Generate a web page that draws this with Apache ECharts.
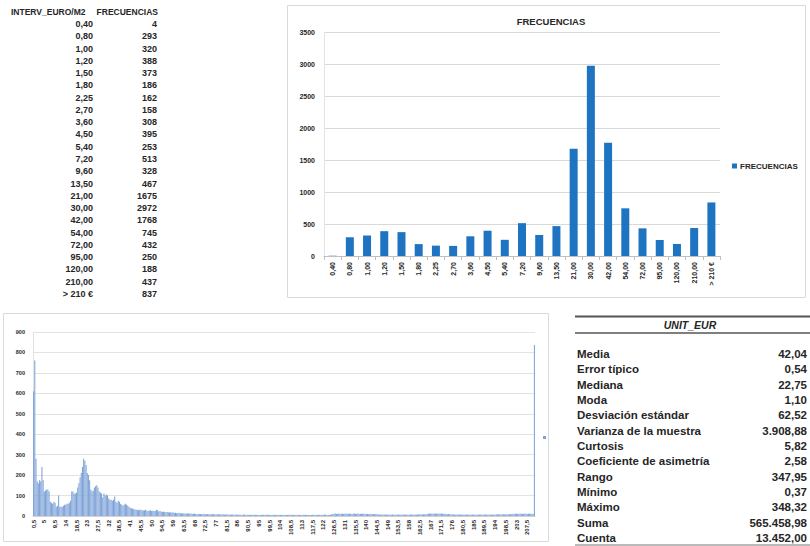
<!DOCTYPE html>
<html>
<head>
<meta charset="utf-8">
<script src="https://cdn.jsdelivr.net/npm/echarts@6/dist/echarts.min.js"></script>
<style>
  html, body { margin: 0; padding: 0; background: #fff; }
  #chart { width: 810px; height: 546px; }
</style>
</head>
<body>
<div id="chart"></div>
<script>
// frequency table (top left) and its bar chart
const intervals = ['0,40', '0,80', '1,00', '1,20', '1,50', '1,80', '2,25', '2,70', '3,60', '4,50', '5,40', '7,20',
  '9,60', '13,50', '21,00', '30,00', '42,00', '54,00', '72,00', '95,00', '120,00', '210,00', '> 210 €'];
const frecuencias = [4, 293, 320, 388, 373, 186, 162, 158, 308, 395, 253, 513,
  328, 467, 1675, 2972, 1768, 745, 432, 250, 188, 437, 837];

// descriptive statistics (bottom right)
const statLabels = ['Media', 'Error típico', 'Mediana', 'Moda', 'Desviación estándar', 'Varianza de la muestra',
  'Curtosis', 'Coeficiente de asimetría', 'Rango', 'Mínimo', 'Máximo', 'Suma', 'Cuenta'];
const statValues = ['42,04', '0,54', '22,75', '1,10', '62,52', '3.908,88',
  '5,82', '2,58', '347,95', '0,37', '348,32', '565.458,98', '13.452,00'];

// histogram in 0,5 €/m2 steps (bottom left)
const histValues = [
  610, 760, 280, 170, 160, 175, 170, 240, 175, 120,
  125, 130, 130, 120, 70, 65, 60, 70, 65, 45,
  50, 100, 45, 45, 45, 50, 55, 55, 60, 60,
  65, 75, 120, 120, 110, 110, 115, 140, 160, 190,
  210, 240, 280, 270, 250, 210, 200, 175, 130, 120,
  125, 140, 145, 150, 140, 120, 115, 110, 90, 110,
  100, 105, 100, 85, 80, 80, 75, 80, 95, 70,
  65, 75, 70, 60, 55, 50, 55, 60, 55, 50,
  45, 40, 38, 35, 35, 32, 30, 30, 28, 30,
  30, 28, 27, 28, 30, 26, 25, 27, 28, 25,
  26, 25, 24, 30, 28, 22, 24, 22, 20, 22,
  20, 18, 20, 18, 17, 18, 16, 18, 15, 16,
  15, 14, 16, 14, 13, 12, 14, 12, 11, 13,
  12, 11, 12, 10, 11, 12, 10, 9, 11, 10,
  10, 9, 10, 11, 9, 8, 10, 9, 8, 9,
  8, 9, 8, 7, 9, 8, 7, 8, 7, 8,
  7, 6, 8, 7, 6, 7, 6, 7, 6, 6,
  7, 6, 5, 7, 6, 5, 6, 7, 5, 6,
  6, 5, 6, 5, 7, 5, 6, 5, 6, 5,
  5, 6, 5, 6, 5, 7, 5, 6, 5, 5,
  6, 5, 5, 6, 5, 6, 5, 5, 6, 5,
  5, 6, 5, 5, 6, 5, 7, 5, 5, 6,
  5, 6, 5, 6, 5, 5, 6, 5, 6, 5,
  5, 6, 5, 5, 6, 5, 6, 5, 5, 6,
  6, 5, 6, 5, 7, 6, 5, 6, 5, 6,
  9, 10, 11, 12, 10, 11, 12, 10, 11, 12,
  10, 11, 12, 11, 10, 12, 11, 10, 11, 12,
  10, 11, 12, 10, 11, 10, 12, 11, 10, 11,
  10, 9, 10, 11, 9, 10, 9, 10, 8, 9,
  7, 6, 7, 6, 8, 6, 7, 6, 7, 6,
  6, 7, 6, 6, 7, 6, 7, 6, 6, 7,
  6, 7, 6, 7, 6, 6, 7, 6, 7, 6,
  7, 6, 7, 8, 7, 8, 7, 8, 9, 8,
  10, 11, 12, 11, 12, 11, 12, 11, 12, 11,
  12, 11, 12, 11, 10, 11, 10, 9, 10, 9,
  8, 7, 8, 7, 6, 7, 8, 7, 6, 7,
  7, 6, 7, 6, 7, 6, 7, 6, 7, 6,
  6, 7, 6, 7, 6, 7, 6, 7, 6, 7,
  7, 6, 7, 6, 7, 6, 7, 6, 8, 7,
  8, 7, 8, 7, 8, 7, 8, 9, 8, 9,
  10, 9, 11, 10, 11, 12, 10, 11, 12, 11,
  10, 11, 12, 11, 10, 11, 12, 10, 11, 10,
  837
];
// category names 0,5 ... 210 and the last open class
const histCats = [];
for (let i = 0; i < histValues.length - 1; i++) {
  let v = (i + 1) * 0.5;
  histCats.push(Number.isInteger(v) ? String(v) : String(v).replace('.', ','));
}
histCats.push('> 210 €');

const FONT = '"Liberation Sans", Arial, sans-serif';
const INK = '#262626';
const GRID = '#d9d9d9';

let graphics = [
  {type: 'rect', shape: {x: 287.5, y: 5.5, width: 518, height: 292}, style: {fill: 'none', stroke: GRID, lineWidth: 1}},
  {type: 'rect', shape: {x: 3.5, y: 313.5, width: 545, height: 228}, style: {fill: 'none', stroke: GRID, lineWidth: 1}},
  {type: 'text', x: 11, y: 12, style: {text: 'INTERV_EURO/M2', font: 'bold 8.5px ' + FONT, fill: INK, align: 'left', verticalAlign: 'middle'}},
  {type: 'text', x: 158, y: 12, style: {text: 'FRECUENCIAS', font: 'bold 8.5px ' + FONT, fill: INK, align: 'right', verticalAlign: 'middle'}}
];
intervals.forEach(function (name, i) {
  let y = 24 + i * 12.27;
  graphics.push({type: 'text', x: 93, y: y, style: {text: name, font: 'bold 9px ' + FONT, fill: INK, align: 'right', verticalAlign: 'middle'}});
  graphics.push({type: 'text', x: 157, y: y, style: {text: String(frecuencias[i]), font: 'bold 9px ' + FONT, fill: INK, align: 'right', verticalAlign: 'middle'}});
});

// stats table
graphics.push({type: 'line', shape: {x1: 575, y1: 316.5, x2: 810, y2: 316.5}, style: {stroke: '#555', lineWidth: 2}});
graphics.push({type: 'line', shape: {x1: 575, y1: 333, x2: 810, y2: 333}, style: {stroke: '#555', lineWidth: 1.5}});
graphics.push({type: 'line', shape: {x1: 575, y1: 545, x2: 810, y2: 545}, style: {stroke: '#777', lineWidth: 1}});
graphics.push({type: 'text', x: 690, y: 325, style: {text: 'UNIT_EUR', font: 'italic bold 10.5px ' + FONT, fill: INK, align: 'center', verticalAlign: 'middle'}});
statLabels.forEach(function (name, i) {
  let y = 354 + i * 15.33;
  graphics.push({type: 'text', x: 577, y: y, style: {text: name, font: 'bold 11.5px ' + FONT, fill: INK, align: 'left', verticalAlign: 'middle'}});
  graphics.push({type: 'text', x: 807, y: y, style: {text: statValues[i], font: 'bold 11.5px ' + FONT, fill: INK, align: 'right', verticalAlign: 'middle'}});
});

let myChart = echarts.init(document.getElementById('chart'), null, {renderer: 'svg'});
let option = {
  animation: false,
  textStyle: {fontFamily: FONT},
  title: {
    text: 'FRECUENCIAS',
    left: 546,
    top: 11,
    textAlign: 'center',
    textStyle: {fontSize: 9.5, fontWeight: 'bold', color: INK, fontFamily: FONT}
  },
  legend: [{
    data: ['FRECUENCIAS'],
    left: 727,
    top: 157,
    icon: 'rect',
    itemWidth: 5,
    itemHeight: 5,
    itemGap: 4,
    textStyle: {fontSize: 8, fontWeight: 'bold', color: INK, padding: [0, 0, 0, -2]}
  }, {
    data: ['UNIT_EUR'],
    left: 538,
    top: 431,
    icon: 'rect',
    itemWidth: 3,
    itemHeight: 3,
    formatter: function () { return ''; }
  }],
  grid: [
    {left: 324, right: 90, top: 32, bottom: 290},
    {left: 33, right: 275, top: 332, bottom: 30}
  ],
  xAxis: [{
    type: 'category',
    gridIndex: 0,
    data: intervals,
    axisLine: {lineStyle: {color: '#bfbfbf'}},
    axisTick: {show: true, alignWithLabel: false, length: 4, lineStyle: {color: '#bfbfbf'}},
    axisLabel: {rotate: 90, interval: 0, fontSize: 7, fontWeight: 'bold', color: INK, margin: 6}
  }, {
    type: 'category',
    gridIndex: 1,
    data: histCats,
    axisLine: {lineStyle: {color: '#d0d0d0'}},
    axisTick: {show: false},
    axisLabel: {rotate: 90, interval: 8, fontSize: 6, fontWeight: 'bold', color: INK, margin: 4}
  }],
  yAxis: [{
    type: 'value',
    gridIndex: 0,
    min: 0,
    max: 3500,
    interval: 500,
    axisLine: {show: true, lineStyle: {color: '#e3e3e3'}},
    axisLabel: {fontSize: 7, fontWeight: 'bold', color: INK, margin: 9, formatter: function (v) { return String(v); }},
    splitLine: {lineStyle: {color: GRID}}
  }, {
    type: 'value',
    gridIndex: 1,
    min: 0,
    max: 900,
    interval: 100,
    axisLine: {show: true, lineStyle: {color: '#e3e3e3'}},
    axisLabel: {fontSize: 5.5, fontWeight: 'bold', color: INK, margin: 8, formatter: function (v) { return String(v); }},
    splitLine: {lineStyle: {color: '#e3e3e3'}}
  }],
  series: [{
    name: 'FRECUENCIAS',
    type: 'bar',
    xAxisIndex: 0,
    yAxisIndex: 0,
    data: frecuencias,
    barWidth: 8,
    itemStyle: {color: '#1f74c2'}
  }, {
    name: 'UNIT_EUR',
    type: 'bar',
    xAxisIndex: 1,
    yAxisIndex: 1,
    data: histValues,
    barCategoryGap: '12%',
    itemStyle: {color: '#7fa3d8'}
  }],
  graphic: graphics
};
myChart.setOption(option);
</script>
</body>
</html>
